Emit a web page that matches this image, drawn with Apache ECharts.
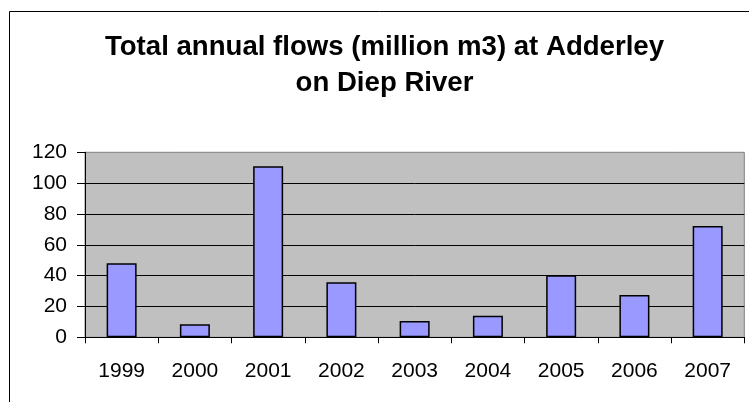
<!DOCTYPE html>
<html>
<head>
<meta charset="utf-8">
<script src="https://cdn.jsdelivr.net/npm/echarts@6/dist/echarts.min.js"></script>
<style>
  html, body { margin: 0; padding: 0; background: #fff; }
  #chart { width: 749px; height: 402px; }
</style>
</head>
<body>
<div id="chart"></div>
<script>
const years = ['1999', '2000', '2001', '2002', '2003', '2004', '2005', '2006', '2007']
const flows = [48, 8.4, 111, 35.7, 10.6, 14, 40.2, 27.4, 72.2]
const titleText = 'Total annual flows (million m3) at Adderley\non Diep River'

const font = "'Liberation Sans', Arial, sans-serif"
const chart = echarts.init(document.getElementById('chart'))

chart.setOption({
  animation: false,
  backgroundColor: '#fff',
  title: {
    text: titleText,
    left: 384.5,
    top: 29,
    padding: 0,
    textAlign: 'center',
    textStyle: {
      fontFamily: font,
      fontSize: 27.6,
      fontWeight: 'bold',
      lineHeight: 36,
      color: '#000'
    }
  },
  graphic: [{
    type: 'rect',
    shape: { x: 9.5, y: 11.5, width: 800, height: 500 },
    style: { fill: null, stroke: '#000', lineWidth: 1 },
    z: -10
  }],
  grid: {
    left: 85,
    top: 152.3,
    right: 4.7,
    bottom: 64.7,
    show: true,
    backgroundColor: '#C0C0C0',
    borderColor: '#808080',
    borderWidth: 1
  },
  xAxis: {
    type: 'category',
    data: years,
    axisLine: { show: true, lineStyle: { color: '#000', width: 1 } },
    axisTick: { show: true, inside: false, alignWithLabel: false, interval: 0, length: 6, lineStyle: { color: '#000', width: 1 } },
    axisLabel: { fontFamily: font, fontSize: 21, color: '#000', margin: 23 }
  },
  yAxis: {
    type: 'value',
    min: 0,
    max: 120,
    interval: 20,
    axisLine: { show: true, lineStyle: { color: '#000', width: 1 } },
    axisTick: { show: true, inside: false, length: 8, lineStyle: { color: '#000', width: 1 } },
    axisLabel: { fontFamily: font, fontSize: 21, color: '#000', margin: 18 },
    splitLine: { show: true, showMaxLine: false, lineStyle: { color: '#000', width: 1 } }
  },
  series: [{
    type: 'bar',
    data: flows,
    barWidth: 30,
    itemStyle: { color: '#9999FF', borderColor: '#000', borderWidth: 1.5 }
  }]
})
</script>
</body>
</html>
